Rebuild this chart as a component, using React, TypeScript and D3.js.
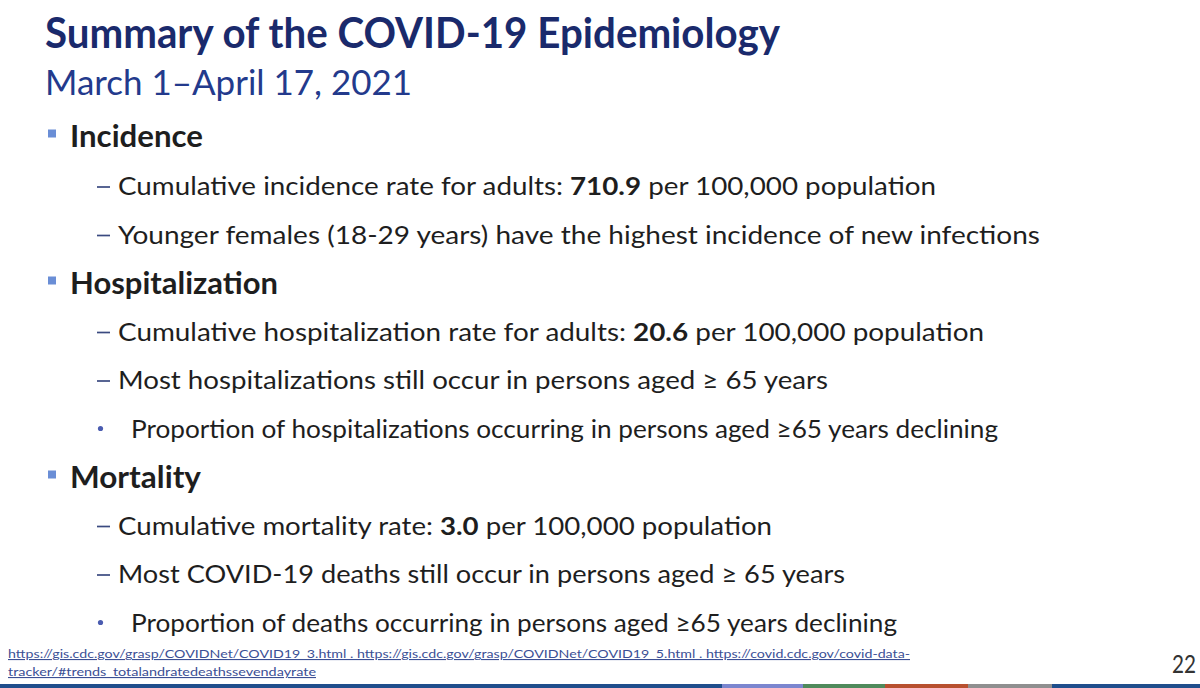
import React from "react";
import * as d3 from "d3";

const titleText = "Summary of the COVID-19 Epidemiology";
const subtitleText = "March 1–April 17, 2021";

// Each row: level 0 = heading, 1 = dash item, 2 = dot sub-bullet
const rowLevels = [0, 1, 1, 0, 1, 1, 2, 0, 1, 1, 2];
const rowPre = [
  "Incidence",
  "Cumulative incidence rate for adults: ",
  "Younger females (18-29 years) have the highest incidence of new infections",
  "Hospitalization",
  "Cumulative hospitalization rate for adults: ",
  "Most hospitalizations still occur in persons aged ≥ 65 years",
  "Proportion of hospitalizations occurring in persons aged ≥65 years declining",
  "Mortality",
  "Cumulative mortality rate: ",
  "Most COVID-19 deaths still occur in persons aged ≥ 65 years",
  "Proportion of deaths occurring in persons aged ≥65 years declining",
];
const rowBold = ["", "710.9", "", "", "20.6", "", "", "", "3.0", "", ""];
const rowPost = ["", " per 100,000 population", "", "", " per 100,000 population", "", "", "", " per 100,000 population", "", ""];
// right edge of each row
const rowEnd = [203, 936, 1040, 278, 984, 828, 998, 201, 772, 845, 897];

const footerLines = [
  "https://gis.cdc.gov/grasp/COVIDNet/COVID19_3.html . https://gis.cdc.gov/grasp/COVIDNet/COVID19_5.html . https://covid.cdc.gov/covid-data-",
  "tracker/#trends_totalandratedeathssevendayrate",
];
const footerEnd = [910, 316];
const pageNumber = "22";

const stripColors = ["#1f4e8c", "#7b86cf", "#4f8a5b", "#b8502f", "#8f8f8f", "#1f4e8c"];
const stripBreaks = [0, 722, 803, 885, 968, 1052, 1200];

const W = 1200;
const H = 688;
const FONT = "Lato, 'Open Sans', sans-serif";

export default function App() {
  const rowY = d3.scaleLinear().domain([0, rowLevels.length - 1]).range([146.5, 631.5]);
  const footY = d3.scaleLinear().domain([0, 1]).range([658, 676]);

  const startX = (lvl: number) => (lvl === 0 ? 70 : lvl === 1 ? 118 : 131);
  const sizeOf = (lvl: number) => (lvl === 0 ? 30 : lvl === 1 ? 25.5 : 24.5);

  return (
    <svg
      width={W}
      height={H}
      viewBox={`0 0 ${W} ${H}`}
      style={{ position: "absolute", left: 0, top: 0, background: "#ffffff" }}
    >
      <rect x={0} y={0} width={W} height={H} fill="#ffffff" />
      <text
        x={45}
        y={48}
        fontFamily={FONT}
        fontWeight={700}
        fontSize={42}
        fill="#1a2a6c"
        textLength={735}
        lengthAdjust="spacingAndGlyphs"
      >
        {titleText}
      </text>
      <text
        x={45}
        y={95}
        fontFamily={FONT}
        fontSize={34}
        fill="#233a8c"
        textLength={367}
        lengthAdjust="spacingAndGlyphs"
      >
        {subtitleText}
      </text>

      {rowLevels.map((lvl, i) => {
        const y = rowY(i) + (lvl === 0 && i > 0 ? 1.5 : 0);
        const x0 = startX(lvl);
        return (
          <g key={i}>
            {lvl === 0 && (
              <rect x={48} y={y - 17} width={8} height={8} fill="#6a8ed6" />
            )}
            {lvl === 1 && (
              <line
                x1={97}
                x2={110}
                y1={y - 8}
                y2={y - 8}
                stroke="#3a4a80"
                strokeWidth={1.7}
              />
            )}
            {lvl === 2 && <circle cx={100.5} cy={y - 9} r={2.6} fill="#4a5cb0" />}
            <text
              x={x0}
              y={y}
              fontFamily={FONT}
              fontWeight={lvl === 0 ? 700 : 400}
              fontSize={sizeOf(lvl)}
              fill="#1e1e1e"
              textLength={rowEnd[i] - x0}
              lengthAdjust="spacingAndGlyphs"
              style={{ whiteSpace: "pre" }}
            >
              {rowPre[i]}
              {rowBold[i] && <tspan fontWeight={700}>{rowBold[i]}</tspan>}
              {rowPost[i]}
            </text>
          </g>
        );
      })}

      {footerLines.map((t, i) => (
        <text
          key={i}
          x={8}
          y={footY(i)}
          fontFamily={FONT}
          fontSize={11}
          fill="#3b4f95"
          textDecoration="underline"
          textLength={footerEnd[i] - 8}
          lengthAdjust="spacingAndGlyphs"
        >
          {t}
        </text>
      ))}

      <text
        x={1172}
        y={673}
        fontFamily={FONT}
        fontSize={25}
        fill="#333333"
        textLength={24}
        lengthAdjust="spacingAndGlyphs"
      >
        {pageNumber}
      </text>

      {stripColors.map((c, i) => (
        <rect
          key={i}
          x={stripBreaks[i]}
          y={684}
          width={stripBreaks[i + 1] - stripBreaks[i]}
          height={4}
          fill={c}
        />
      ))}
    </svg>
  );
}
